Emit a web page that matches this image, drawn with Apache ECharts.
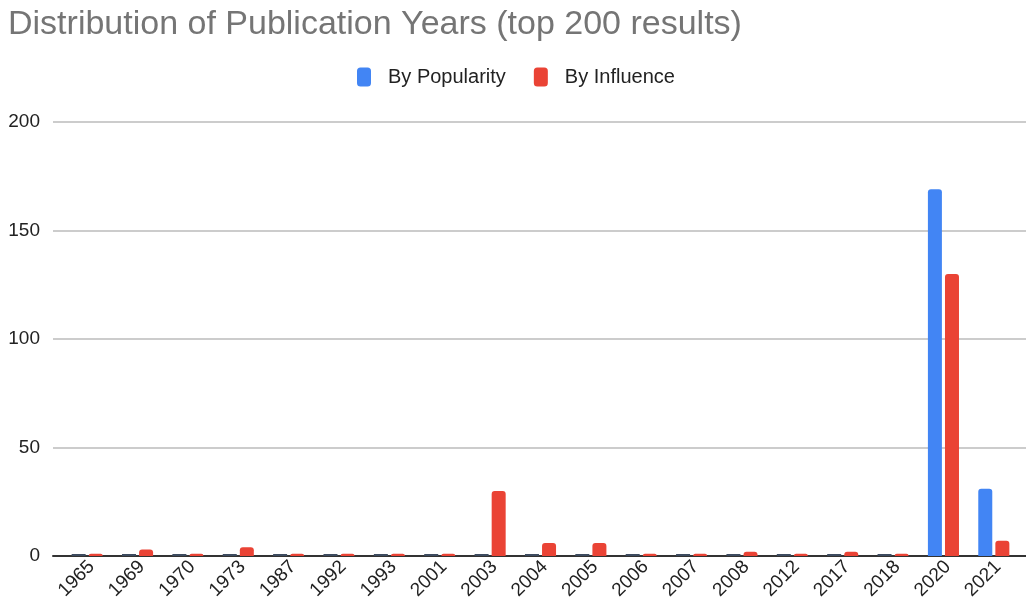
<!DOCTYPE html>
<html>
<head>
<meta charset="utf-8">
<script src="https://cdn.jsdelivr.net/npm/echarts@6/dist/echarts.min.js"></script>
<style>
  html, body { margin: 0; padding: 0; background: #fff; }
  #chart { width: 1026px; height: 613px; }
</style>
</head>
<body>
<div id="chart"></div>
<script>
// Publication years of the top 200 results, counted two ways
const years = ['1965', '1969', '1970', '1973', '1987', '1992', '1993', '2001', '2003', '2004',
               '2005', '2006', '2007', '2008', '2012', '2017', '2018', '2020', '2021'];
const byPopularity = [0, 0, 0, 0, 0, 0, 0, 0, 0, 0, 0, 0, 0, 0, 0, 0, 0, 169, 31];
const byInfluence  = [1, 3, 1, 4, 1, 1, 1, 1, 30, 6, 6, 1, 1, 2, 1, 2, 1, 130, 7];
const yTicks = { min: 0, max: 200, interval: 50 };

const BLUE = '#4285F4';
const RED = '#EA4335';
const ZERO = '#3d4b5f';
const FONT = '"Liberation Sans", Arial, sans-serif';

const chart = echarts.init(document.getElementById('chart'), null, { renderer: 'canvas' });

const withZeroMarks = (vals, color) => vals.map(v => ({
  value: v,
  itemStyle: { color: v === 0 ? ZERO : color, borderRadius: v === 0 ? 0 : [3, 3, 0, 0] }
}));

chart.setOption({
  animation: false,
  textStyle: { fontFamily: FONT },
  title: {
    text: 'Distribution of Publication Years (top 200 results)',
    left: 3, top: 3,
    textStyle: { fontSize: 34, fontWeight: 'normal', color: '#757575', fontFamily: FONT }
  },
  legend: {
    left: 352, top: 62,
    itemWidth: 14, itemHeight: 19, itemGap: 28,
    icon: 'roundRect',
    textStyle: { fontSize: 20, color: '#222', fontFamily: FONT, padding: [0, 0, 0, 12] },
    data: ['By Popularity', 'By Influence']
  },
  grid: [
    // full-width frame: gridlines, value labels, baseline
    { left: 53, right: 0, top: 122, bottom: 57, containLabel: false },
    // plotting area for the bars
    { left: 62, right: 7, top: 122, bottom: 57, containLabel: false }
  ],
  xAxis: [
    {
      gridIndex: 0, type: 'value', min: 0, max: 1,
      axisLine: { show: true, lineStyle: { color: '#333', width: 2 } },
      axisTick: { show: false }, axisLabel: { show: false }, splitLine: { show: false }
    },
    {
      gridIndex: 1, type: 'category', data: years,
      axisLine: { show: false }, axisTick: { show: false },
      axisLabel: {
        rotate: 45, fontSize: 19, color: '#222', margin: 12, fontFamily: FONT, interval: 0,
        padding: [0, -6, 0, 0]
      }
    }
  ],
  yAxis: [
    {
      gridIndex: 0, type: 'value', min: yTicks.min, max: yTicks.max, interval: yTicks.interval,
      axisLine: { show: false }, axisTick: { show: false },
      axisLabel: { fontSize: 19, color: '#222', margin: 13, fontFamily: FONT },
      splitLine: { lineStyle: { color: '#cccccc', width: 2 } }
    },
    {
      gridIndex: 1, type: 'value', min: yTicks.min, max: yTicks.max, interval: yTicks.interval,
      show: false, splitLine: { show: false }
    }
  ],
  series: [
    {
      name: 'By Popularity', type: 'bar', xAxisIndex: 1, yAxisIndex: 1,
      barWidth: 14, barGap: '22%', barMinHeight: 2,
      itemStyle: { color: BLUE },
      data: withZeroMarks(byPopularity, BLUE)
    },
    {
      name: 'By Influence', type: 'bar', xAxisIndex: 1, yAxisIndex: 1,
      barWidth: 14, barGap: '22%', barMinHeight: 2,
      itemStyle: { color: RED },
      data: withZeroMarks(byInfluence, RED)
    }
  ]
});
</script>
</body>
</html>
